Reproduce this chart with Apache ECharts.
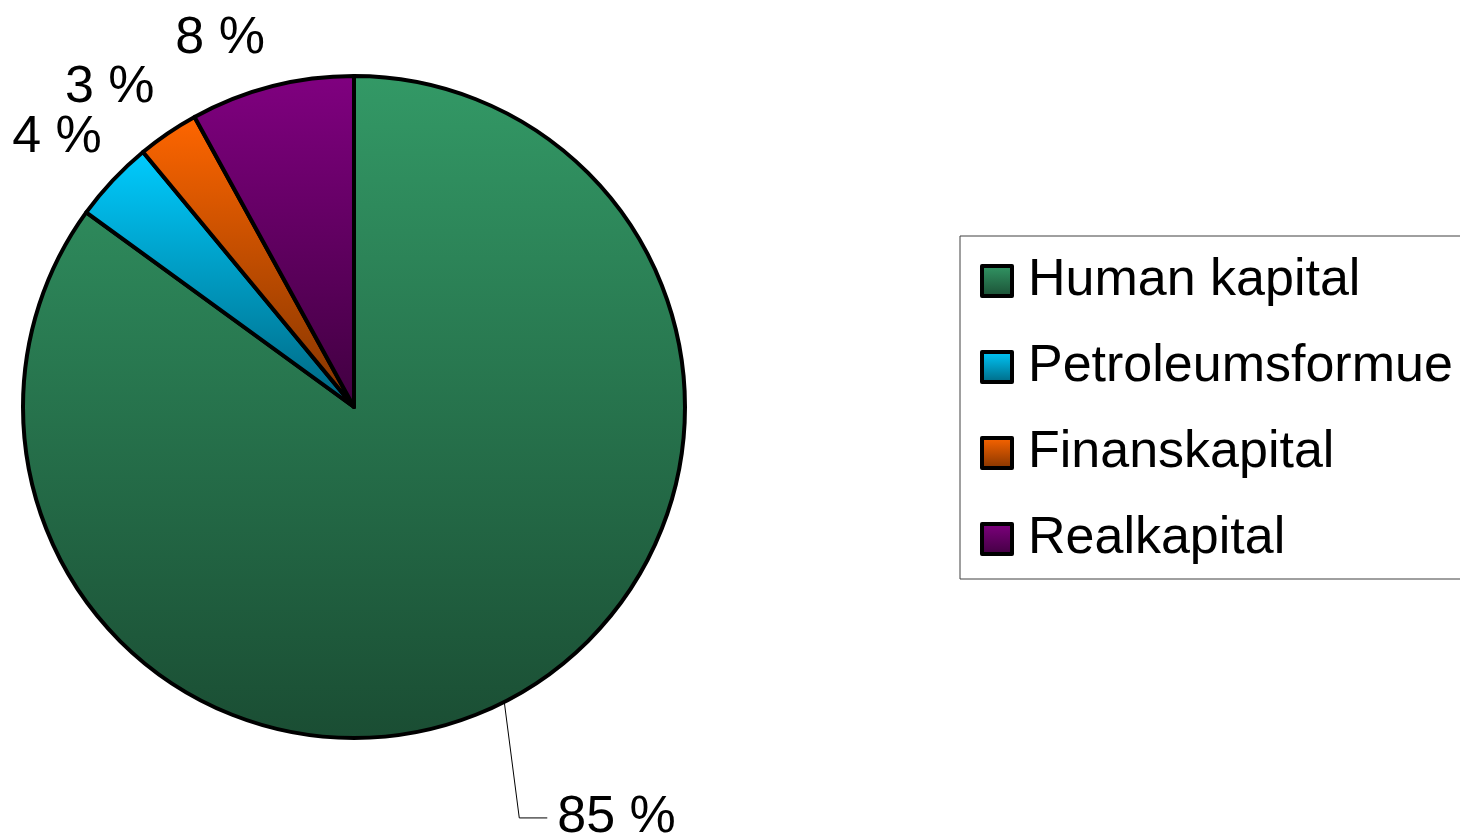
<!DOCTYPE html>
<html>
<head>
<meta charset="utf-8">
<script src="https://cdn.jsdelivr.net/npm/echarts@6/dist/echarts.min.js"></script>
<style>
  html, body { margin: 0; padding: 0; background: #fff; }
  #container { width: 1460px; height: 837px; }
</style>
</head>
<body>
<div id="container"></div>
<script>
// data
let navn = ['Human kapital', 'Petroleumsformue', 'Finanskapital', 'Realkapital']
let andel = [85, 4, 3, 8]
let farger = [
  ['#339966', '#1a4d33'],
  ['#00ccff', '#006680'],
  ['#ff6600', '#803300'],
  ['#800080', '#400040']
]

function gradient(c){
  return new echarts.graphic.LinearGradient(0, 0, 0, 1, [
    { offset: 0, color: c[0] },
    { offset: 1, color: c[1] }
  ])
}

let divEle = document.getElementById('container')
let instance = echarts.init(divEle, null, { renderer: 'canvas' })

let pieData = navn.map((n, i) => {
  return {
    name: n,
    value: andel[i],
    itemStyle: { color: gradient(farger[i]) },
    labelLine: { show: i === 0 }
  }
})

// label offsets for the small slices (the big one gets a bent leader line)
let labelShift = [null, [20, -32], [15, -33], [17, -33]]

instance.setOption({
  animation: false,
  legend: {
    orient: 'vertical',
    left: 960,
    top: 236,
    padding: [19, 10, 14, 20],
    itemGap: 34,
    itemWidth: 30,
    itemHeight: 30,
    icon: 'rect',
    borderColor: '#404040',
    borderWidth: 1,
    itemStyle: { borderColor: '#000', borderWidth: 4 },
    textStyle: {
      fontFamily: 'Liberation Sans',
      fontSize: 52,
      lineHeight: 52,
      color: '#000',
      padding: [0, 0, 0, 11]
    },
    data: navn
  },
  series: [
    {
      type: 'pie',
      center: [354, 407],
      radius: 331,
      startAngle: 90,
      clockwise: true,
      avoidLabelOverlap: false,
      itemStyle: { borderColor: '#000', borderWidth: 4 },
      label: {
        show: true,
        position: 'outside',
        formatter: '{c} %',
        fontFamily: 'Liberation Sans',
        fontSize: 52,
        color: '#000'
      },
      labelLine: {
        show: true,
        length: 15,
        length2: 15,
        lineStyle: { color: '#000', width: 1 }
      },
      labelLayout: function(params){
        let i = params.dataIndex
        if (i === 0) {
          let p0 = params.labelLinePoints[0]
          let p1 = [p0[0] + 15, p0[1] + 116]
          let p2 = [p1[0] + 28, p1[1]]
          return {
            x: p2[0] + 10,
            y: p2[1],
            align: 'left',
            verticalAlign: 'middle',
            labelLinePoints: [p0, p1, p2]
          }
        }
        return { dx: labelShift[i][0], dy: labelShift[i][1] }
      },
      emphasis: { disabled: true },
      data: pieData
    }
  ]
})
</script>
</body>
</html>
